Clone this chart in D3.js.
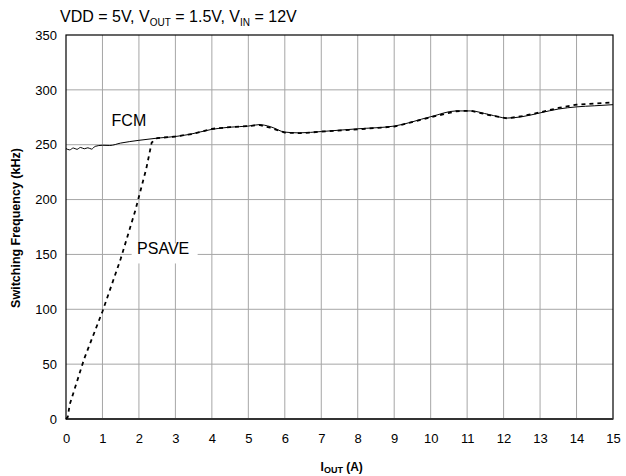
<!DOCTYPE html>
<html>
<head>
<meta charset="utf-8">
<script src="https://cdn.jsdelivr.net/npm/d3@7"></script>
<style>
  body { margin: 0; background: #fff; }
  text { font-family: "Liberation Sans", Arial, sans-serif; }
</style>
</head>
<body>
<div id="graph1"></div>
<script>
// values
let fcmCurrent = [0, 0.1, 0.2, 0.3, 0.4, 0.5, 0.6, 0.7, 0.8, 1, 1.2, 1.5, 2, 2.5, 3, 3.4, 4, 4.5, 5, 5.3, 5.6, 6, 6.4, 7, 8, 9, 10, 10.7, 11.1, 11.6, 12.1, 12.5, 13, 13.5, 14, 14.5, 15];
let fcmFreq = [246.5, 245.3, 247, 245.8, 247.5, 246.3, 247.2, 246, 248.5, 249.5, 249.3, 251.5, 254, 256, 257.5, 259.5, 264, 266, 267, 268.3, 266.5, 261.5, 260.8, 262, 264.5, 267, 275.5, 280.8, 280.8, 277.5, 274.3, 275.5, 279, 282.5, 284.5, 285.5, 286.5];

let psaveCurrent = [0, 0.05, 0.1, 0.5, 1.0, 1.5, 1.9, 2.2, 2.35, 2.5, 3, 3.5, 4, 4.5, 5, 5.3, 5.6, 6, 6.5, 7, 8, 9, 10, 10.7, 11.1, 11.6, 12.1, 12.5, 13, 13.5, 14, 14.5, 15];
let psaveFreq = [0, 2, 13, 55, 98, 146, 190, 228, 252, 256, 257.5, 260, 264.5, 266, 267, 268, 265.5, 261, 260.5, 262, 264, 266.5, 275, 280.5, 281, 277, 274, 276, 279.5, 283.5, 286.5, 287.5, 288.5];

let xTicks = d3.range(0, 16, 1);
let yTicks = [0, 50, 100, 150, 200, 250, 300, 350];

let width = 626, height = 476;
let margin = {left: 66, right: 13, top: 35, bottom: 57};

let svg = d3.select("#graph1")
    .append("svg")
    .attr("width", width)
    .attr("height", height);

let x = d3.scaleLinear().domain([0, 15]).range([margin.left, width - margin.right]);
let y = d3.scaleLinear().domain([0, 350]).range([height - margin.bottom, margin.top]);

// grid
svg.append("g")
    .selectAll("line.v").data(xTicks.slice(1, -1))
    .enter().append("line")
    .attr("x1", d => x(d)).attr("x2", d => x(d))
    .attr("y1", y(0)).attr("y2", y(350))
    .attr("stroke", "#a6a6a6").attr("stroke-width", 1);

svg.append("g")
    .selectAll("line.h").data(yTicks.slice(1, -1))
    .enter().append("line")
    .attr("x1", x(0)).attr("x2", x(15))
    .attr("y1", d => y(d)).attr("y2", d => y(d))
    .attr("stroke", "#a6a6a6").attr("stroke-width", 1);

// frame
svg.append("rect")
    .attr("x", x(0)).attr("y", y(350))
    .attr("width", x(15) - x(0)).attr("height", y(0) - y(350))
    .attr("fill", "none").attr("stroke", "#000").attr("stroke-width", 1.2);
svg.append("line")
    .attr("x1", x(0)).attr("x2", x(15))
    .attr("y1", y(0)).attr("y2", y(0))
    .attr("stroke", "#333").attr("stroke-width", 2);

// tick labels
svg.append("g")
    .attr("transform", `translate(0,${y(0)})`)
    .call(d3.axisBottom(x).tickValues(xTicks).tickFormat(d3.format("d")).tickSize(0).tickPadding(15))
    .call(g => g.select(".domain").remove())
    .selectAll("text").style("font-size", "13px").attr("fill", "#000");

svg.append("g")
    .attr("transform", `translate(${x(0)},0)`)
    .call(d3.axisLeft(y).tickValues(yTicks).tickSize(0).tickPadding(9))
    .call(g => g.select(".domain").remove())
    .selectAll("text").style("font-size", "13px").attr("fill", "#000");

// white box behind PSAVE
svg.append("rect")
    .attr("x", x(1.8)).attr("y", y(160))
    .attr("width", 66).attr("height", 20)
    .attr("fill", "#fff");

let line = d3.line().x(d => x(d[0])).y(d => y(d[1])).curve(d3.curveMonotoneX);

svg.append("path")
    .datum(d3.zip(fcmCurrent, fcmFreq))
    .attr("fill", "none").attr("stroke", "#000").attr("stroke-width", 1)
    .attr("d", line);

svg.append("path")
    .datum(d3.zip(psaveCurrent, psaveFreq))
    .attr("fill", "none").attr("stroke", "#000").attr("stroke-width", 1.8)
    .attr("stroke-dasharray", "4,4")
    .attr("d", d3.line().x(d => x(d[0])).y(d => y(d[1])));

svg.append("text")
    .attr("x", x(1.25)).attr("y", y(267))
    .style("font-size", "16px")
    .text("FCM");

svg.append("text")
    .attr("x", x(1.95)).attr("y", y(150))
    .style("font-size", "16px")
    .text("PSAVE");

// title
let title = svg.append("text")
    .attr("x", 60).attr("y", 22)
    .style("font-size", "16px");
title.append("tspan").text("VDD = 5V, V");
title.append("tspan").attr("dy", 4).style("font-size", "10px").text("OUT");
title.append("tspan").attr("dy", -4).text(" = 1.5V, V");
title.append("tspan").attr("dy", 4).style("font-size", "10px").text("IN");
title.append("tspan").attr("dy", -4).text(" = 12V");

// axis titles
svg.append("text")
    .attr("transform", `translate(${20}, ${228}) rotate(-90)`)
    .style("text-anchor", "middle")
    .style("font-size", "12.5px")
    .style("font-weight", "bold")
    .text("Switching Frequency (kHz)");

let xl = svg.append("text")
    .attr("x", x(6.98)).attr("y", 471)
    .style("font-size", "12px")
    .style("font-weight", "bold");
xl.append("tspan").text("I");
xl.append("tspan").attr("dy", 2).style("font-size", "9px").text("OUT");
xl.append("tspan").attr("dy", -2).text(" (A)");
</script>
</body>
</html>
